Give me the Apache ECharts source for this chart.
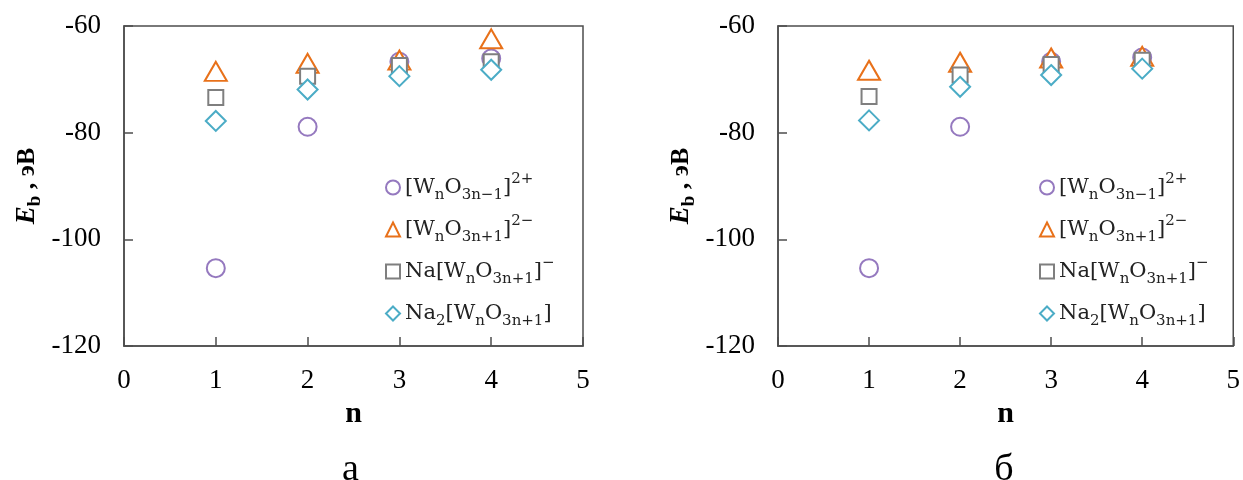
<!DOCTYPE html>
<html><head><meta charset="utf-8">
<script src="https://cdn.jsdelivr.net/npm/echarts@6/dist/echarts.min.js"></script>
<style>html,body{margin:0;padding:0;background:#fff}#c{width:1243px;height:480px}</style>
</head><body><div id="c"></div>
<script>
const nValues = [1, 2, 3, 4];
const xTicks = [0, 1, 2, 3, 4, 5];
const yTicks = [-120, -100, -80, -60];
// Panel а
const a_circle = [-105.4, -78.9, -66.7, -66.1];
const a_triangle = [-68.5, -67.0, -66.4, -62.4];
const a_square = [-73.4, -69.4, -67.4, -66.7];
const a_diamond = [-77.8, -71.9, -69.4, -68.2];
// Panel б
const b_circle = [-105.4, -78.9, -66.7, -65.9];
const b_triangle = [-68.3, -66.8, -66.0, -65.7];
const b_square = [-73.2, -69.2, -67.2, -66.4];
const b_diamond = [-77.7, -71.4, -69.2, -68.0];
const panelLabels = ['а', 'б'];

const legendRich = {
  '[WnO3n−1]2+': '[W{s|n}O{s|3n−1}]{p|2+}',
  '[WnO3n+1]2−': '[W{s|n}O{s|3n+1}]{p|2−}',
  'Na[WnO3n+1]−': 'Na[W{s|n}O{s|3n+1}]{p|−}',
  'Na2[WnO3n+1]': 'Na{s|2}[W{s|n}O{s|3n+1}]'
};
const names = Object.keys(legendRich);
const colors = ['#9579bf', '#e8711a', '#7f7f7f', '#4bacc6'];
const symbols = ['circle', 'triangle', 'rect', 'diamond'];
const sizes = [18, [22, 19], 15, [20, 20]];

const axisCol = '#4d4d4d';
const font = 'Liberation Serif';

function mkSeries(gi, arrs) {
  return arrs.map((arr, k) => ({
    type: 'scatter', name: names[k], xAxisIndex: gi, yAxisIndex: gi,
    symbol: symbols[k], symbolSize: sizes[k],
    itemStyle: { color: '#fff', opacity: 1, borderColor: colors[k], borderWidth: 2 },
    z: 2 + k,
    data: arr.map((v, i) => [nValues[i], v])
  }));
}

const grids = [
  { left: 124, top: 26, width: 459, height: 320 },
  { left: 778, top: 26, width: 458, height: 320 }
];
const xAxes = grids.map((g, i) => ({
  gridIndex: i, type: 'value', min: xTicks[0], max: xTicks[xTicks.length - 1], interval: 1,
  name: 'n', nameLocation: 'middle', nameGap: 52,
  nameTextStyle: { fontFamily: font, fontWeight: 'bold', fontSize: 30, color: '#000' },
  axisLine: { show: true, lineStyle: { color: axisCol, width: 1.5 } },
  axisTick: { show: true, inside: true, length: 9, lineStyle: { color: axisCol, width: 1.5 } },
  axisLabel: { fontFamily: font, fontSize: 27, color: '#000', margin: 21 },
  splitLine: { show: false }
}));
const yAxes = grids.map((g, i) => ({
  gridIndex: i, type: 'value', min: yTicks[0], max: yTicks[yTicks.length - 1], interval: 20,
  name: '{e|E}{b|b}{t| , эВ}', nameLocation: 'middle', nameRotate: 90, nameGap: 79,
  nameTextStyle: {
    rich: {
      e: { fontFamily: font, fontWeight: 'bold', fontStyle: 'italic', fontSize: 27, color: '#000', lineHeight: 36, verticalAlign: 'middle' },
      b: { fontFamily: font, fontWeight: 'bold', fontSize: 19, color: '#000', lineHeight: 36, verticalAlign: 'bottom' },
      t: { fontFamily: font, fontWeight: 'bold', fontSize: 26, color: '#000', lineHeight: 36, verticalAlign: 'middle' }
    }
  },
  axisLine: { show: true, lineStyle: { color: axisCol, width: 1.5 } },
  axisTick: { show: true, inside: true, length: 9, lineStyle: { color: axisCol, width: 1.5 } },
  axisLabel: { fontFamily: font, fontSize: 27, color: '#000', margin: 23 },
  splitLine: { show: false }
}));

const legends = grids.map((g, i) => ({
  orient: 'vertical', left: g.left + 261, top: 172, itemWidth: 14, itemHeight: 14, itemGap: 11,
  padding: 0,
  data: names,
  formatter: n => legendRich[n],
  textStyle: {
    fontFamily: 'DejaVu Serif', fontSize: 21, color: '#222', lineHeight: 31,
    rich: {
      s: { fontFamily: 'DejaVu Serif', fontSize: 15, color: '#222', lineHeight: 31, verticalAlign: 'bottom' },
      p: { fontFamily: 'DejaVu Serif', fontSize: 15, color: '#222', lineHeight: 31, verticalAlign: 'top' }
    }
  }
}));

const option = {
  animation: false,
  backgroundColor: '#fff',
  grid: grids.map(g => Object.assign({ show: true, borderColor: axisCol, borderWidth: 1.5, backgroundColor: 'transparent' }, g)),
  xAxis: xAxes, yAxis: yAxes,
  legend: legends,
  graphic: panelLabels.map((t, i) => ({
    type: 'text', x: grids[i].left + grids[i].width / 2 - 3, y: 470,
    style: { text: t, fontFamily: font, fontSize: 38, fill: '#000', align: 'center', verticalAlign: 'middle' }
  })),
  series: [
    ...mkSeries(0, [a_circle, a_triangle, a_square, a_diamond]),
    ...mkSeries(1, [b_circle, b_triangle, b_square, b_diamond])
  ]
};
const chart = echarts.init(document.getElementById('c'), null, { renderer: 'canvas' });
chart.setOption(option);
</script></body></html>
